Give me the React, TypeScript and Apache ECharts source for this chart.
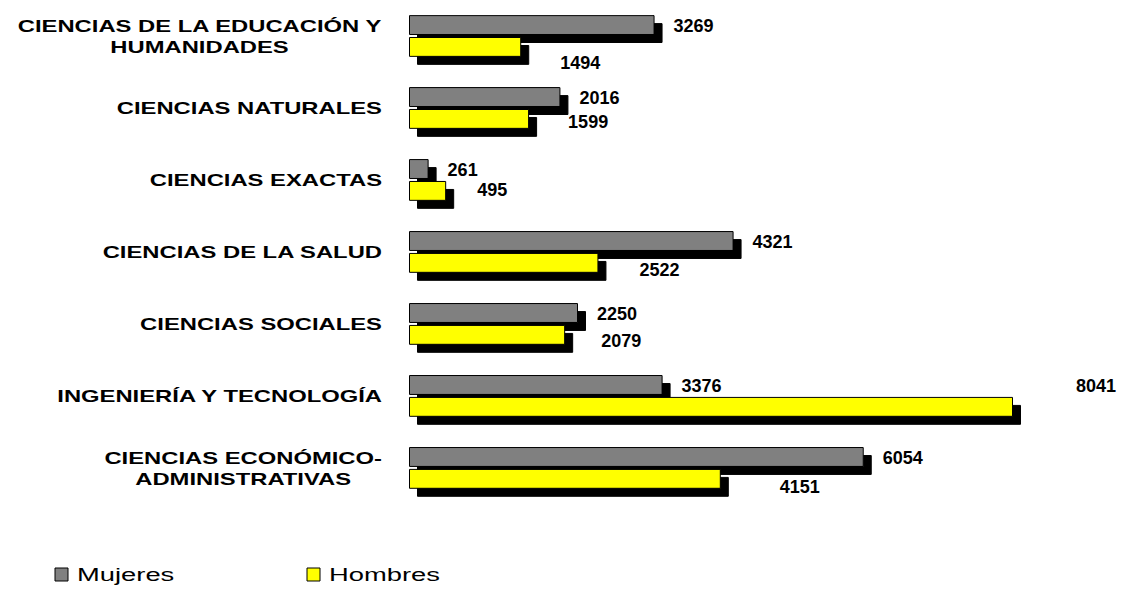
import { useEffect, useRef } from "react";
import * as echarts from "echarts";

// ---- data ----
const categories = [
  "CIENCIAS DE LA EDUCACIÓN Y\nHUMANIDADES",
  "CIENCIAS NATURALES",
  "CIENCIAS EXACTAS",
  "CIENCIAS DE LA SALUD",
  "CIENCIAS SOCIALES",
  "INGENIERÍA Y TECNOLOGÍA",
  "CIENCIAS ECONÓMICO-\nADMINISTRATIVAS",
];
const mujeres = [3269, 2016, 261, 4321, 2250, 3376, 6054];
const hombres = [1494, 1599, 495, 2522, 2079, 8041, 4151];
const seriesNames = ["Mujeres", "Hombres"];

// ---- style: label nudges for the Hombres value labels (dx, dy) ----
const hombresLabelNudges = [
  [39, 16],
  [39, 3],
  [31, -1],
  [41, 7],
  [36, 6],
  [63, -21],
  [59, 8],
];

const FONT = '"Liberation Sans", Arial, Helvetica, sans-serif';
const GRAY = "#808080";
const YELLOW = "#FFFF00";
const GRID_LEFT = 409;
const X_MAX = 9000;
const PX_PER_UNIT = 604 / 8041;
const LABEL_RIGHT = 382;
const CAT_FS = 17;
const CAT_SX = 1.4;
const LEG_FS = 19;
const LEG_SX = 1.44;

export default function App() {
  const ref = useRef<HTMLDivElement>(null);

  useEffect(() => {
    if (!ref.current) return;
    const chart = echarts.init(ref.current, null, { renderer: "svg" });

    const shadow = {
      shadowColor: "#000",
      shadowOffsetX: 8,
      shadowOffsetY: 8,
      shadowBlur: 0,
    };
    const valueLabel = {
      show: true,
      position: "right" as const,
      fontFamily: FONT,
      fontWeight: "bold" as const,
      fontSize: 18,
      color: "#000",
    };

    chart.setOption({
      animation: false,
      backgroundColor: "#fff",
      grid: {
        left: GRID_LEFT,
        width: X_MAX * PX_PER_UNIT,
        top: -2.9,
        height: 506.8,
        containLabel: false,
      },
      xAxis: {
        type: "value",
        min: 0,
        max: X_MAX,
        show: false,
        splitLine: { show: false },
      },
      yAxis: {
        type: "category",
        data: categories,
        inverse: true,
        axisLine: { show: false },
        axisTick: { show: false },
        axisLabel: { show: false },
      },
      series: [
        {
          type: "bar",
          name: seriesNames[0],
          data: mujeres,
          barGap: "10%",
          barCategoryGap: "42%",
          itemStyle: {
            color: GRAY,
            borderColor: "#000",
            borderWidth: 1,
            ...shadow,
          },
          label: { ...valueLabel, distance: 19, offset: [0, 1] },
        },
        {
          type: "bar",
          name: seriesNames[1],
          data: hombres.map((v, i) => ({
            value: v,
            label: { offset: hombresLabelNudges[i] },
          })),
          barGap: "10%",
          barCategoryGap: "42%",
          itemStyle: {
            color: YELLOW,
            borderColor: "#000",
            borderWidth: 1,
            ...shadow,
          },
          label: { ...valueLabel, distance: 0 },
        },
      ],
    });

    // category labels (stretched text) and legend as graphic elements
    const canvas = document.createElement("canvas");
    const ctx = canvas.getContext("2d")!;
    ctx.font = `bold ${CAT_FS}px ${FONT}`;
    const elements: any[] = [];
    categories.forEach((c, i) => {
      const y = chart.convertToPixel({ yAxisIndex: 0 }, i) as number;
      const lines = c.split("\n");
      const multi = lines.length > 1;
      const w = Math.max(...lines.map((l) => ctx.measureText(l).width));
      elements.push({
        type: "text",
        x: multi ? LABEL_RIGHT - (w * CAT_SX) / 2 : LABEL_RIGHT,
        y,
        scaleX: CAT_SX,
        style: {
          text: c,
          fontFamily: FONT,
          fontWeight: "bold",
          fontSize: CAT_FS,
          lineHeight: 21,
          fill: "#000",
          align: multi ? "center" : "right",
          verticalAlign: "middle",
        },
      });
    });

    const legendItems = [
      { name: seriesNames[0], color: GRAY, x: 55 },
      { name: seriesNames[1], color: YELLOW, x: 307 },
    ];
    legendItems.forEach((it) => {
      elements.push({
        type: "rect",
        shape: { x: it.x, y: 568, width: 13, height: 13 },
        style: { fill: it.color, stroke: "#000", lineWidth: 1 },
      });
      elements.push({
        type: "text",
        x: it.x + 22,
        y: 575,
        scaleX: LEG_SX,
        style: {
          text: it.name,
          fontFamily: FONT,
          fontSize: LEG_FS,
          fill: "#000",
          align: "left",
          verticalAlign: "middle",
        },
      });
    });

    chart.setOption({ graphic: { elements } });

    return () => chart.dispose();
  }, []);

  return (
    <div
      ref={ref}
      style={{
        position: "absolute",
        left: 0,
        top: 0,
        width: 1124,
        height: 589,
        background: "#fff",
      }}
    />
  );
}
